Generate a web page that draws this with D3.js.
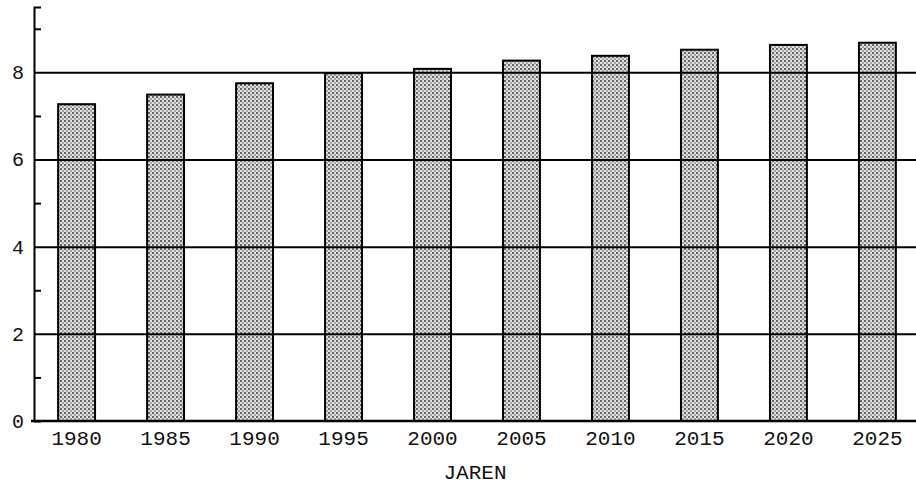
<!DOCTYPE html>
<html>
<head>
<meta charset="utf-8">
<script src="https://cdn.jsdelivr.net/npm/d3@7"></script>
<style>
  body { margin: 0; background: #fff; }
  text { font-family: "Liberation Mono", "DejaVu Sans Mono", monospace; fill: #111; }
</style>
</head>
<body>
<svg id="chart"></svg>
<script>
const years = ["1980", "1985", "1990", "1995", "2000", "2005", "2010", "2015", "2020", "2025"];
const values = [7.27, 7.49, 7.75, 7.98, 8.08, 8.27, 8.38, 8.52, 8.63, 8.68];
const majorTicks = [0, 2, 4, 6, 8];
const minorTicks = [1, 3, 5, 7, 9];
const gridTicks = [2, 4, 6, 8];

const width = 916;
const height = 492;
const plotLeft = 34, plotRight = 916, plotBottom = 421, plotTop = 7;

const svg = d3.select('#chart')
  .attr('width', width)
  .attr('height', height);

// stipple pattern for the bars
const defs = svg.append('defs');
const pat = defs.append('pattern')
  .attr('id', 'dots')
  .attr('width', 4)
  .attr('height', 4)
  .attr('patternUnits', 'userSpaceOnUse');
pat.append('rect').attr('width', 4).attr('height', 4).attr('fill', '#e0e0e0');
pat.append('circle').attr('cx', 1).attr('cy', 1).attr('r', 0.9).attr('fill', '#2a2a2a');
pat.append('circle').attr('cx', 3).attr('cy', 3).attr('r', 0.8).attr('fill', '#555');

const xScale = d3.scaleBand()
  .domain(years)
  .range([plotLeft + 1, plotRight + 3])
  .paddingInner(0.585)
  .paddingOuter(0.26);

const yScale = d3.scaleLinear()
  .domain([0, 9.5])
  .range([plotBottom, plotTop]);

// bars
svg.selectAll('.bar')
  .data(values)
  .join('rect')
    .attr('class', 'bar')
    .attr('x', (d, i) => xScale(years[i]))
    .attr('y', d => yScale(d))
    .attr('width', xScale.bandwidth())
    .attr('height', d => plotBottom - yScale(d))
    .attr('fill', 'url(#dots)')
    .attr('stroke', '#000')
    .attr('stroke-width', 2);

// horizontal grid lines drawn over the bars
const grid = svg.append('g')
  .attr('transform', `translate(${plotLeft}, 0)`)
  .call(d3.axisLeft(yScale).tickValues(gridTicks).tickSize(-(plotRight - plotLeft)).tickFormat(''));
grid.select('.domain').remove();
grid.selectAll('line').attr('stroke', '#000').attr('stroke-width', 2);

// minor ticks pointing inward
const minor = svg.append('g')
  .attr('transform', `translate(${plotLeft}, 0)`)
  .call(d3.axisLeft(yScale).tickValues(minorTicks).tickSize(-7).tickFormat(''));
minor.select('.domain').attr('stroke', '#000').attr('stroke-width', 2);
minor.selectAll('line').attr('stroke', '#000').attr('stroke-width', 2);

// y labels
const yAxis = svg.append('g')
  .attr('transform', `translate(${plotLeft}, 0)`)
  .call(d3.axisLeft(yScale).tickValues(majorTicks).tickSize(0).tickPadding(10));
yAxis.select('.domain').remove();
yAxis.selectAll('text').style('font-size', '20px');

// x axis
const xAxis = svg.append('g')
  .attr('transform', `translate(0, ${plotBottom})`)
  .call(d3.axisBottom(xScale).tickSize(0).tickPadding(9));
xAxis.select('.domain').remove();
xAxis.selectAll('text').style('font-size', '21px');

svg.append('line')
  .attr('x1', plotLeft - 3).attr('x2', plotRight)
  .attr('y1', plotBottom).attr('y2', plotBottom)
  .attr('stroke', '#000')
  .attr('stroke-width', 2.5);

svg.append('text')
  .attr('x', (plotLeft + plotRight) / 2)
  .attr('y', 479)
  .attr('text-anchor', 'middle')
  .style('font-size', '21px')
  .text('JAREN');
</script>
</body>
</html>
